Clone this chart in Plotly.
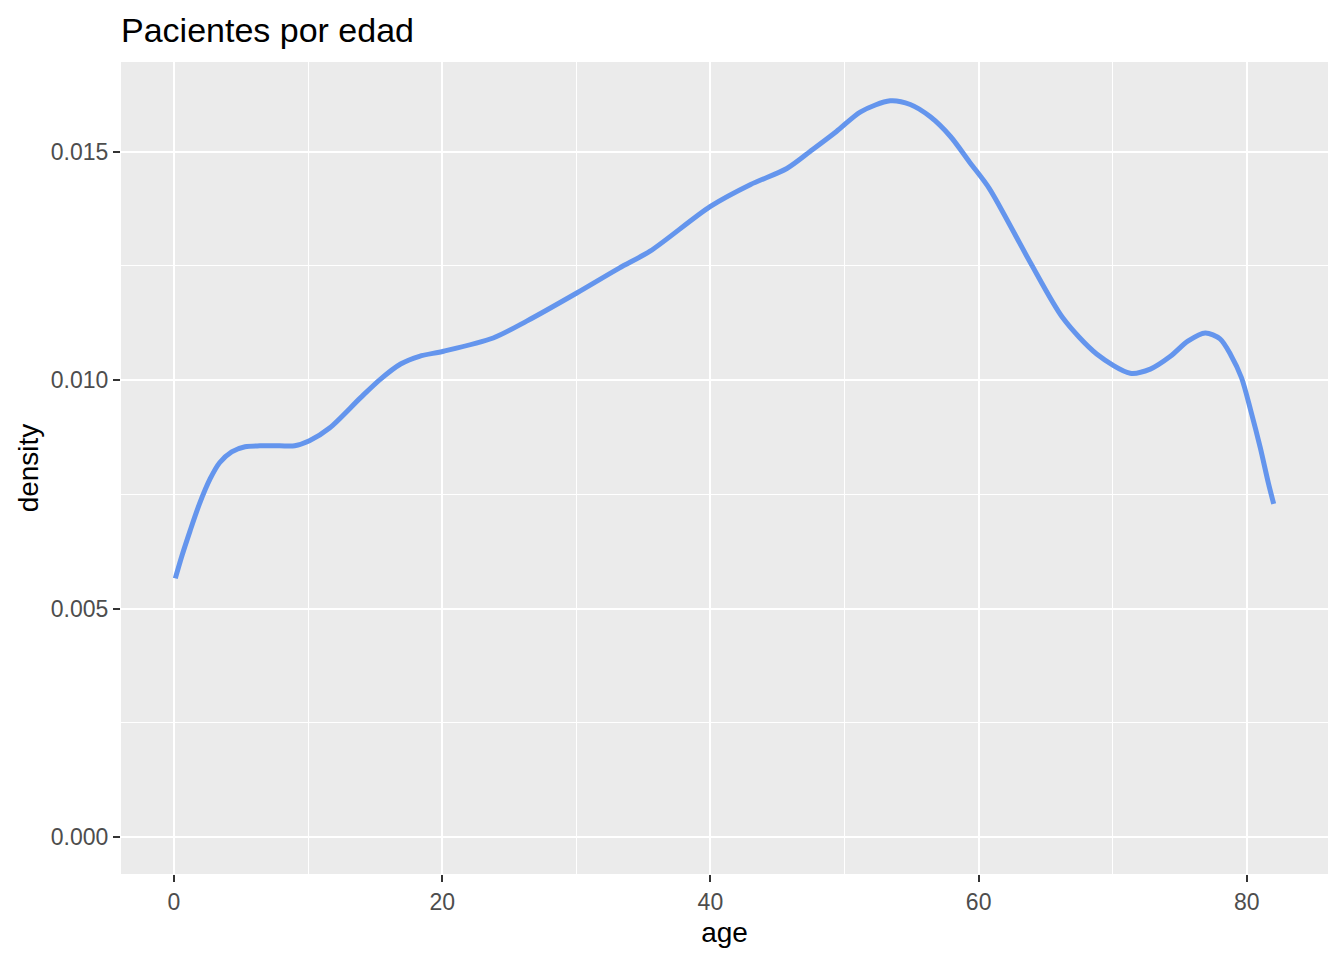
import plotly.graph_objects as go

# densidad estimada
age = [0.1, 0.6, 1.2, 1.9, 2.7, 3.4, 4.3, 5.3, 6.4, 7.9, 9.0, 10.1, 11.6, 13.9,
       15.4, 16.9, 18.3, 20.1, 23.8, 26.3, 30.0, 33.2, 35.5, 40.0, 43.0, 45.7,
       47.6, 49.4, 51.2, 53.4, 54.9, 56.4, 57.9, 59.4, 60.8, 63.8, 66.3,
       68.8, 71.3, 72.8, 74.3, 75.6, 76.9, 78.0, 78.8, 79.6, 80.3, 81.0, 81.6, 82.0]
density = [0.00566, 0.00616, 0.0067, 0.00729, 0.00784, 0.00819, 0.00843, 0.00854,
           0.00856, 0.00856, 0.00856, 0.00867, 0.00895, 0.00961, 0.01002, 0.01035,
           0.01052, 0.01063, 0.01092, 0.01129, 0.0119, 0.01245, 0.01282, 0.0138,
           0.01428, 0.01463, 0.01504, 0.01544, 0.01587, 0.01611, 0.01603, 0.01576,
           0.01533, 0.01474, 0.01419, 0.0126, 0.01135, 0.01057, 0.01015,
           0.01024, 0.01052, 0.01085, 0.01103, 0.0109, 0.01055, 0.01005, 0.00932,
           0.00852, 0.00775, 0.00729]

x_ticks = [0, 20, 40, 60, 80]
y_ticks = [0.0, 0.005, 0.010, 0.015]

FONT = "Liberation Sans, Arial, sans-serif"

fig = go.Figure(
    go.Scatter(
        x=age,
        y=density,
        mode="lines",
        line=dict(color="#6495ED", width=5, shape="spline", smoothing=0.8),
        hoverinfo="x+y",
        showlegend=False,
    )
)

axis_common = dict(
    showline=False,
    zeroline=False,
    gridcolor="white",
    gridwidth=2.1,
    ticks="outside",
    ticklen=7,
    tickwidth=2,
    tickcolor="#333333",
    tickfont=dict(family=FONT, size=23, color="#4D4D4D"),
    title_font=dict(family=FONT, size=28, color="black"),
)

# the page body has an 8px margin, so the figure is 8px smaller than the window
fig.update_layout(
    width=1336,
    height=952,
    paper_bgcolor="white",
    plot_bgcolor="#EBEBEB",
    margin=dict(l=113, r=16, t=54, b=86),
    title=dict(
        text="Pacientes por edad",
        font=dict(family=FONT, size=34, color="black"),
        x=0, xref="paper", xanchor="left",
        y=1 - 22 / 952, yref="container", yanchor="middle",
    ),
    xaxis=dict(
        axis_common,
        range=[-3.95, 86.05],
        tickvals=x_ticks,
        title=dict(text="age", standoff=8),
        minor=dict(dtick=10, tick0=0, showgrid=True, gridcolor="white", gridwidth=1, ticks=""),
    ),
    yaxis=dict(
        axis_common,
        range=[-0.00081, 0.01696],
        tickvals=y_ticks,
        tickformat=".3f",
        title=dict(text="density", standoff=4),
        minor=dict(dtick=0.0025, tick0=0, showgrid=True, gridcolor="white", gridwidth=1, ticks=""),
    ),
)

fig.write_html("out.html")
